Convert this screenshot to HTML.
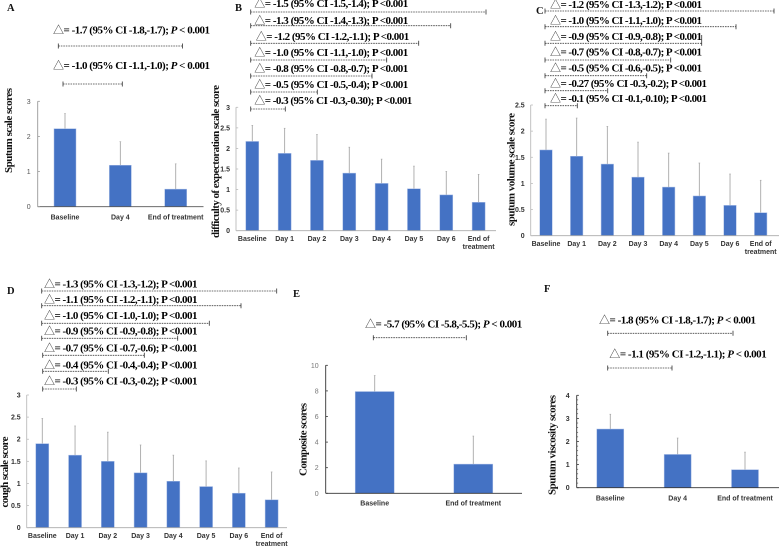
<!DOCTYPE html>
<html lang="en">
<head>
<meta charset="utf-8">
<title>Symptom score panels</title>
<style>
html,body{margin:0;padding:0;background:#fff;width:779px;height:546px;overflow:hidden}
svg{display:block;position:absolute;left:0;top:0;filter:blur(.25px)}
.note{font-family:"Liberation Serif","Noto Sans CJK SC",serif;font-weight:700;font-size:11px;fill:#000}
.tri{font-family:"Noto Sans CJK SC",sans-serif;font-weight:400;fill:#333}
.panel{font-family:"Liberation Serif",serif;font-weight:700;font-size:10.5px;fill:#111}
.ytitle{font-family:"Liberation Serif",serif;font-weight:700;font-size:11px;fill:#111}
.tick{font-family:"Liberation Sans",sans-serif;font-size:7px;font-weight:700;fill:#333}
.cat{font-family:"Liberation Sans",sans-serif;font-size:7px;font-weight:700;fill:#333}
.br{stroke:#333;stroke-width:.8;fill:none}
.dash{stroke:#444;stroke-width:.8;stroke-dasharray:1.6 .9;fill:none}
</style>
</head>
<body>
<svg id="fig" width="779" height="546" viewBox="0 0 779 546" xmlns="http://www.w3.org/2000/svg">
  <text class="panel" x="7" y="11">A</text>
  <text class="panel" x="235" y="11">B</text>
  <text class="panel" x="536" y="14">C</text>
  <text class="panel" x="7" y="294">D</text>
  <text class="panel" x="293" y="297">E</text>
  <text class="panel" x="544" y="292">F</text>

  <text class="ytitle" transform="translate(12,130.5) rotate(-90)" text-anchor="middle" textLength="85">Sputum scale scores</text>
  <text class="ytitle" transform="translate(219,161.5) rotate(-90)" text-anchor="middle" textLength="153">difficulty of expectoration scale score</text>
  <text class="ytitle" transform="translate(514.5,169.5) rotate(-90)" text-anchor="middle" textLength="113">sputum volume scale score</text>
  <text class="ytitle" transform="translate(8,472) rotate(-90)" text-anchor="middle" textLength="71">cough scale score</text>
  <text class="ytitle" transform="translate(306.5,439.5) rotate(-90)" text-anchor="middle" textLength="73">Composite scores</text>
  <text class="ytitle" transform="translate(555.5,445) rotate(-90)" text-anchor="middle" textLength="100">Sputum viscosity scores</text>

  <g>
    <text class="note" x="53" y="33.5" textLength="157"><tspan class="tri">△</tspan>= -1.7 (95% CI -1.8,-1.7); <tspan font-style="italic">P</tspan> &lt; 0.001</text>
    <path class="br" d="M58.3 43.5v5M182.5 43.5v5"/><path class="dash" d="M58.3 46H182.5"/>
    <text class="note" x="53" y="69" textLength="157"><tspan class="tri">△</tspan>= -1.0 (95% CI -1.1,-1.0); <tspan font-style="italic">P</tspan> &lt; 0.001</text>
    <path class="br" d="M63 81.5v5M122.3 81.5v5"/><path class="dash" d="M63 84H122.3"/>
  </g>

  <g>
    <text class="note" x="254.3" y="7" textLength="154"><tspan class="tri">△</tspan>= -1.5 (95% CI -1.5,-1.4); P &lt;0.001</text>
    <path class="br" d="M250.7 9.5v5M486 9.5v5"/><path class="dash" d="M250.7 12H486"/>
    <text class="note" x="254.3" y="24" textLength="154"><tspan class="tri">△</tspan>= -1.3 (95% CI -1.4,-1.3); P &lt;0.001</text>
    <path class="br" d="M250.7 23.2v5M450.7 23.2v5"/><path class="dash" d="M250.7 25.7H450.7"/>
    <text class="note" x="255.7" y="40" textLength="153.5"><tspan class="tri">△</tspan>= -1.2 (95% CI -1.2,-1.1); P &lt;0.001</text>
    <path class="br" d="M250.7 40.8v5M418.7 40.8v5"/><path class="dash" d="M250.7 43.3H418.7"/>
    <text class="note" x="254.3" y="56" textLength="154"><tspan class="tri">△</tspan>= -1.0 (95% CI -1.1,-1.0); P &lt;0.001</text>
    <path class="br" d="M250.7 57.5v5M386.7 57.5v5"/><path class="dash" d="M250.7 60H386.7"/>
    <text class="note" x="254.3" y="72" textLength="154"><tspan class="tri">△</tspan>= -0.8 (95% CI -0.8,-0.7); P &lt;0.001</text>
    <path class="br" d="M250.7 73.5v5M372 73.5v5"/><path class="dash" d="M250.7 76H372"/>
    <text class="note" x="254.3" y="88" textLength="154"><tspan class="tri">△</tspan>= -0.5 (95% CI -0.5,-0.4); P &lt;0.001</text>
    <path class="br" d="M250.7 89.5v5M317.3 89.5v5"/><path class="dash" d="M250.7 92H317.3"/>
    <text class="note" x="254.3" y="104" textLength="158"><tspan class="tri">△</tspan>= -0.3 (95% CI -0.3,-0.30); P &lt;0.001</text>
    <path class="br" d="M250.7 106.5v5M285.3 106.5v5"/><path class="dash" d="M250.7 109H285.3"/>
  </g>

  <g>
    <text class="note" x="550" y="8" textLength="152"><tspan class="tri">△</tspan>= -1.2 (95% CI -1.3,-1.2); P &lt;0.001</text>
    <path class="br" d="M545 8.5v5M774 8.5v5"/><path class="dash" d="M545 11H774"/>
    <text class="note" x="550" y="24" textLength="152"><tspan class="tri">△</tspan>= -1.0 (95% CI -1.1,-1.0); P &lt;0.001</text>
    <path class="br" d="M545 24.2v5M736 24.2v5"/><path class="dash" d="M545 26.7H736"/>
    <text class="note" x="550" y="40" textLength="152"><tspan class="tri">△</tspan>= -0.9 (95% CI -0.9,-0.8); P &lt;0.001</text>
    <path class="br" d="M545 40.8v5M701.7 35v10.8"/><path class="dash" d="M545 43.3H701.7"/>
    <text class="note" x="550" y="55.7" textLength="152"><tspan class="tri">△</tspan>= -0.7 (95% CI -0.8,-0.7); P &lt;0.001</text>
    <path class="br" d="M545 57.5v5M670.7 57.5v5"/><path class="dash" d="M545 60H670.7"/>
    <text class="note" x="550" y="71.7" textLength="152"><tspan class="tri">△</tspan>= -0.5 (95% CI -0.6,-0.5); P &lt;0.001</text>
    <path class="br" d="M545 73.2v5M646.7 73.2v5"/><path class="dash" d="M545 75.7H646.7"/>
    <text class="note" x="550" y="87" textLength="157"><tspan class="tri">△</tspan>= -0.27 (95% CI -0.3,-0.2); P &lt;0.001</text>
    <path class="br" d="M545 88.2v5M607.7 88.2v5"/><path class="dash" d="M545 90.7H607.7"/>
    <text class="note" x="550" y="102" textLength="157"><tspan class="tri">△</tspan>= -0.1 (95% CI -0.1,-0.10); P &lt;0.001</text>
    <path class="br" d="M545 103.2v5M577.3 103.2v5"/><path class="dash" d="M545 105.7H577.3"/>
  </g>

  <g>
    <text class="note" x="44" y="287.3" textLength="153.5"><tspan class="tri">△</tspan>= -1.3 (95% CI -1.3,-1.2); P &lt;0.001</text>
    <path class="br" d="M41.7 288.5v5M276.7 288.5v5"/><path class="dash" d="M41.7 291H276.7"/>
    <text class="note" x="44" y="303" textLength="153.5"><tspan class="tri">△</tspan>= -1.1 (95% CI -1.2,-1.1); P &lt;0.001</text>
    <path class="br" d="M41.7 303.2v5M241 303.2v5"/><path class="dash" d="M41.7 305.7H241"/>
    <text class="note" x="44" y="319" textLength="153.5"><tspan class="tri">△</tspan>= -1.0 (95% CI -1.0,-1.0); P &lt;0.001</text>
    <path class="br" d="M41.7 320.8v5M209.3 320.8v5"/><path class="dash" d="M41.7 323.3H209.3"/>
    <text class="note" x="44" y="334.7" textLength="153.5"><tspan class="tri">△</tspan>= -0.9 (95% CI -0.9,-0.8); P &lt;0.001</text>
    <path class="br" d="M41.7 335.8v5M177.7 335.8v5"/><path class="dash" d="M41.7 338.3H177.7"/>
    <text class="note" x="44" y="351.7" textLength="153.5"><tspan class="tri">△</tspan>= -0.7 (95% CI -0.7,-0.6); P &lt;0.001</text>
    <path class="br" d="M42.7 352.8v5M144.3 352.8v5"/><path class="dash" d="M42.7 355.3H144.3"/>
    <text class="note" x="44" y="368.3" textLength="153.5"><tspan class="tri">△</tspan>= -0.4 (95% CI -0.4,-0.4); P &lt;0.001</text>
    <path class="br" d="M42.7 368.8v5M108.3 368.8v5"/><path class="dash" d="M42.7 371.3H108.3"/>
    <text class="note" x="44" y="384.3" textLength="153.5"><tspan class="tri">△</tspan>= -0.3 (95% CI -0.3,-0.2); P &lt;0.001</text>
    <path class="br" d="M42.7 386.5v5M76.3 386.5v5"/><path class="dash" d="M42.7 389H76.3"/>
  </g>

  <g>
    <text class="note" x="365" y="327.7" textLength="157.3"><tspan class="tri">△</tspan>= -5.7 (95% CI -5.8,-5.5); <tspan font-style="italic">P</tspan> &lt; 0.001</text>
    <path class="br" d="M373.3 335.2v5M466.3 335.2v5"/><path class="dash" d="M373.3 337.7H466.3"/>
  </g>

  <g>
    <text class="note" x="599" y="323.3" textLength="157"><tspan class="tri">△</tspan>= -1.8 (95% CI -1.8,-1.7); <tspan font-style="italic">P</tspan> &lt; 0.001</text>
    <path class="br" d="M607.7 330.8v5M733 330.8v5"/><path class="dash" d="M607.7 333.3H733"/>
    <text class="note" x="609.3" y="357.3" textLength="157.4"><tspan class="tri">△</tspan>= -1.1 (95% CI -1.2,-1.1); <tspan font-style="italic">P</tspan> &lt; 0.001</text>
    <path class="br" d="M607.7 365.5v5M672 365.5v5"/><path class="dash" d="M607.7 368H672"/>
  </g>
</svg>
<script>
const threeCats = ['Baseline', 'Day 4', 'End of treatment'];
const dailyCats = ['Baseline', 'Day 1', 'Day 2', 'Day 3', 'Day 4', 'Day 5', 'Day 6', 'End of treatment'];
const twoCats = ['Baseline', 'End of treatment'];

const aTicks = ['0', '1', '2', '3'];
const aMeans = [2.22, 1.18, 0.5];
const aUpper = [2.65, 1.85, 1.22];

const bTicks = ['0', '0.5', '1', '1.5', '2', '2.5', '3'];
const bMeans = [2.17, 1.88, 1.71, 1.40, 1.15, 1.02, 0.87, 0.69];
const bUpper = [2.56, 2.49, 2.34, 2.03, 1.74, 1.57, 1.44, 1.37];

const cTicks = ['0', '0.5', '1', '1.5', '2', '2.5'];
const cMeans = [1.64, 1.52, 1.37, 1.12, 0.93, 0.76, 0.58, 0.44];
const cUpper = [2.23, 2.25, 2.09, 1.79, 1.58, 1.39, 1.18, 1.06];

const dTicks = ['0', '0.5', '1', '1.5', '2', '2.5', '3'];
const dMeans = [1.90, 1.64, 1.50, 1.24, 1.05, 0.93, 0.78, 0.63];
const dUpper = [2.47, 2.30, 2.16, 1.87, 1.64, 1.51, 1.35, 1.26];

const eTicks = ['0', '2', '4', '6', '8', '10'];
const eMeans = [7.95, 2.28];
const eUpper = [9.2, 4.47];

const fTicks = ['0', '1', '2', '3', '4'];
const fMeans = [2.54, 1.44, 0.78];
const fUpper = [3.18, 2.15, 1.54];

const svgNS = 'http://www.w3.org/2000/svg';
const fig = document.getElementById('fig');

function mk(parent, tag, attrs) {
  const el = document.createElementNS(svgNS, tag);
  Object.keys(attrs).forEach(function (k) { el.setAttribute(k, attrs[k]); });
  parent.appendChild(el);
  return el;
}

function drawChart(id, cats, means, upper, ticks, g) {
  const group = mk(fig, 'g', {});
  
  
  const tickVals = ticks.map(Number);
  const maxV = Math.max.apply(null, tickVals);
  const y = function (v) { return g.y0 - (v / maxV) * (g.y0 - g.yTop); };
  const x = function (i) { return g.x0 + i * g.step; };

  cats.forEach(function (c, i) {
    const err = mk(group, 'line', { x1: x(i), x2: x(i), y1: y(means[i]), y2: y(upper[i]), stroke: '#a8a8a8', 'stroke-width': g.errW || 0.9 });
    
    
    const cap = mk(group, 'line', { x1: x(i) - 0.8, x2: x(i) + 0.8, y1: y(upper[i]), y2: y(upper[i]), stroke: '#a8a8a8', 'stroke-width': 0.7 });
    
    
    const bar = mk(group, 'rect', { x: x(i) - g.barW / 2, y: y(means[i]), width: g.barW, height: g.y0 - y(means[i]), fill: '#4472c4', stroke: '#a9bde6', 'stroke-width': 0.5 });
    
    

    const lines = g.wrap && c === 'End of treatment' ? ['End of', 'treatment'] : [c];
    lines.forEach(function (t, k) {
      const lab = mk(group, 'text', { class: 'cat', x: x(i), y: g.catY + k * 8.1, 'text-anchor': 'middle' });
      
      
      lab.textContent = t;
    });
  });

  const yAxis = mk(group, 'line', { x1: g.axisX, x2: g.axisX, y1: g.yTop, y2: g.y0, stroke: g.axisColor, 'stroke-width': 0.9 });
  
  
  const xAxis = mk(group, 'line', { x1: g.axisX, x2: g.xEnd, y1: g.y0, y2: g.y0, stroke: g.xColor, 'stroke-width': 0.9 });
  
  

  ticks.forEach(function (t, i) {
    const v = tickVals[i];
    const m = mk(group, 'line', { x1: g.axisX, x2: g.axisX + 2.2, y1: y(v), y2: y(v), stroke: g.axisColor, 'stroke-width': 0.8 });
    
    
    const lab = mk(group, 'text', { class: 'tick', x: g.axisX - g.tickGap, y: y(v) + 2.5, 'text-anchor': 'end' });
    
    
    lab.textContent = t;
    if (g.tickFill) { lab.style.fill = g.tickFill; lab.style.fontWeight = '400'; }
    if (g.minor && i < ticks.length - 1) {
      const d = (tickVals[i + 1] - v) / g.minor;
      for (let k = 1; k < g.minor; k++) {
        const mm = mk(group, 'line', { x1: g.axisX, x2: g.axisX + 1.4, y1: y(v + k * d), y2: y(v + k * d), stroke: g.axisColor, 'stroke-width': 0.6 });
        
        
      }
    }
  });
}

drawChart('a', threeCats, aMeans, aUpper, aTicks, { x0: 65, step: 55.35, barW: 22, y0: 206.7, yTop: 101.3, axisX: 37.7, xEnd: 203.5, axisColor: '#999', xColor: '#555', catY: 219.3, tickGap: 7, tickFill: '#555' });
drawChart('b', dailyCats, bMeans, bUpper, bTicks, { x0: 252.3, step: 32.33, barW: 13, y0: 230.7, yTop: 107.3, axisX: 236, xEnd: 496, axisColor: '#bbb', xColor: '#aaa', catY: 241, wrap: true, tickGap: 6 });
drawChart('c', dailyCats, cMeans, cUpper, cTicks, { x0: 546, step: 30.67, barW: 12.5, y0: 235.7, yTop: 105, axisX: 530.7, xEnd: 779, axisColor: '#bbb', xColor: '#aaa', catY: 246, wrap: true, tickGap: 6 });
drawChart('d', dailyCats, dMeans, dUpper, dTicks, { x0: 42.3, step: 32.76, barW: 13, y0: 527.7, yTop: 395, axisX: 26.7, xEnd: 287, axisColor: '#bbb', xColor: '#aaa', catY: 538, wrap: true, tickGap: 6 });
drawChart('e', twoCats, eMeans, eUpper, eTicks, { x0: 374.7, step: 98.6, barW: 39, y0: 493.3, yTop: 365.3, axisX: 325.7, xEnd: 522, axisColor: '#333', xColor: '#333', catY: 505.5, tickGap: 7, tickFill: '#777' });
drawChart('f', threeCats, fMeans, fUpper, fTicks, { x0: 610.3, step: 67.35, barW: 27, y0: 487.7, yTop: 395.3, axisX: 576.7, xEnd: 779, axisColor: '#333', xColor: '#333', catY: 500.5, tickGap: 7, minor: 5, errW: 0.9 });
</script>
</body>
</html>
